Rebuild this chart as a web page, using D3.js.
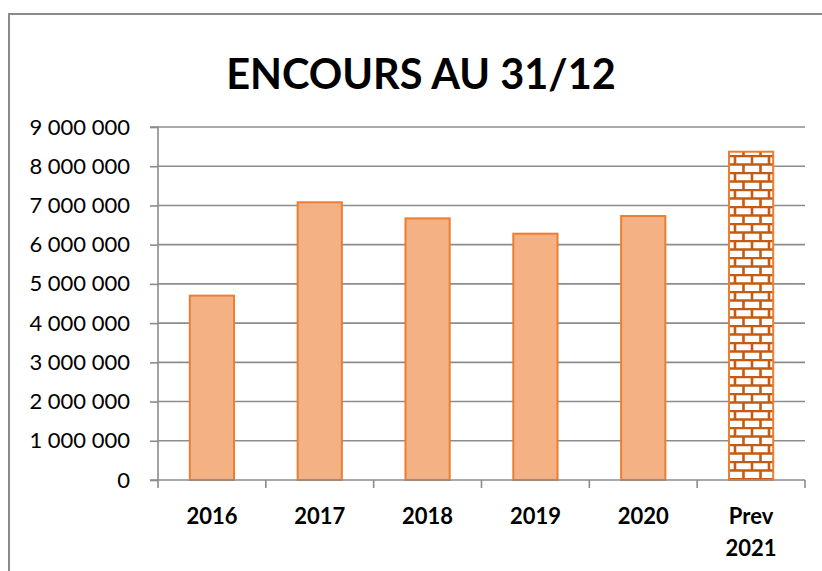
<!DOCTYPE html>
<html>
<head>
<meta charset="utf-8">
<script src="https://cdn.jsdelivr.net/npm/d3@7"></script>
<style>
  body { margin: 0; background: #fff; }
  text { font-family: Lato, "Open Sans", sans-serif; }
</style>
</head>
<body>
<div class="main"></div>
<script>
const width = 822;
const height = 571;
const margin = ({top: 127, right: 17, bottom: 91, left: 158});

// données
const categories = ['2016', '2017', '2018', '2019', '2020', 'Prev\n2021'];
const encours = [4700000, 7080000, 6670000, 6280000, 6730000, 8370000];
const yTicks = [0, 1000000, 2000000, 3000000, 4000000, 5000000, 6000000, 7000000, 8000000, 9000000];
const title = 'ENCOURS AU 31/12';

const data = categories.map((c, i) => ({cat: c, value: encours[i], prev: i === categories.length - 1}));

const svg = d3.select('.main')
  .append('svg')
  .attr('width', width)
  .attr('height', height);

// motif briques
const defs = svg.append('defs');
const pat = defs.append('pattern')
  .attr('id', 'brick')
  .attr('patternUnits', 'userSpaceOnUse')
  .attr('width', 17)
  .attr('height', 17)
  .attr('x', 0)
  .attr('y', 2);
pat.append('rect').attr('width', 17).attr('height', 17).attr('fill', '#fff');
pat.append('path')
  .attr('d', 'M0,1H17 M0,9.5H17 M4,0V8.5 M12.5,8.5V17')
  .attr('stroke', '#C55A11')
  .attr('stroke-width', 2.6)
  .attr('fill', 'none');

// cadre
svg.append('rect')
  .attr('x', 9).attr('y', 14)
  .attr('width', 830).attr('height', 580)
  .attr('fill', 'none')
  .attr('stroke', '#8a8a8a')
  .attr('stroke-width', 2);

const y = d3.scaleLinear()
  .domain([0, 9000000])
  .range([height - margin.bottom, margin.top]);

const x = d3.scaleBand()
  .domain(categories)
  .range([margin.left, width - margin.right])
  .paddingInner(0.59)
  .paddingOuter(0.295);

const fmt = d3.formatLocale({decimal: ',', thousands: ' ', grouping: [3], currency: ['', '€']}).format(',');

// grille
svg.append('g')
  .selectAll('line')
  .data(yTicks.filter(d => d > 0))
  .enter()
  .append('line')
  .attr('x1', margin.left)
  .attr('x2', width - margin.right)
  .attr('y1', d => y(d))
  .attr('y2', d => y(d))
  .attr('stroke', '#8c8c8c')
  .attr('stroke-width', 1.6);

// axe Y
const yAxis = svg.append('g')
  .attr('transform', `translate(${margin.left}, 0)`)
  .call(d3.axisLeft(y).tickValues(yTicks).tickFormat(fmt).tickSize(8).tickPadding(20));
yAxis.selectAll('line, path').attr('stroke', '#8c8c8c').attr('stroke-width', 1.6);
yAxis.select('.domain').attr('d', `M-8,${y(9000000)}H0V${y(0)}H-8`);
yAxis.selectAll('text')
  .attr('fill', '#000')
  .style('font-size', '22px')
  .style('font-family', 'Lato, sans-serif');

// barres
svg.append('g')
  .selectAll('rect')
  .data(data)
  .enter()
  .append('rect')
  .attr('x', d => x(d.cat))
  .attr('y', d => y(d.value))
  .attr('width', x.bandwidth())
  .attr('height', d => y(0) - y(d.value))
  .attr('fill', d => d.prev ? 'url(#brick)' : '#F4B183')
  .attr('stroke', '#ED7D31')
  .attr('stroke-width', 2);

// axe X
const x0 = y(0);
const bounds = d3.range(categories.length + 1).map(i => margin.left + i * x.step());
svg.append('line')
  .attr('x1', margin.left).attr('x2', width - margin.right)
  .attr('y1', x0).attr('y2', x0)
  .attr('stroke', '#8c8c8c').attr('stroke-width', 1.6);
svg.append('g')
  .selectAll('line')
  .data(bounds)
  .enter()
  .append('line')
  .attr('x1', d => d).attr('x2', d => d)
  .attr('y1', x0).attr('y2', x0 + 8)
  .attr('stroke', '#8c8c8c').attr('stroke-width', 1.6);

const labels = svg.append('g')
  .attr('text-anchor', 'middle')
  .style('font-size', '22px')
  .style('font-weight', 'bold')
  .selectAll('text')
  .data(categories)
  .enter()
  .append('text')
  .attr('x', d => x(d) + x.bandwidth() / 2)
  .attr('y', x0 + 44);
labels.selectAll('tspan')
  .data(d => d.split('\n'))
  .enter()
  .append('tspan')
  .attr('x', function() { return this.parentNode.getAttribute('x'); })
  .attr('dy', (d, i) => i === 0 ? 0 : 32)
  .text(d => d);

// titre
svg.append('text')
  .attr('x', 421)
  .attr('y', 89)
  .attr('text-anchor', 'middle')
  .style('font-size', '41.5px')
  .style('font-weight', 'bold')
  .text(title);
</script>
</body>
</html>
